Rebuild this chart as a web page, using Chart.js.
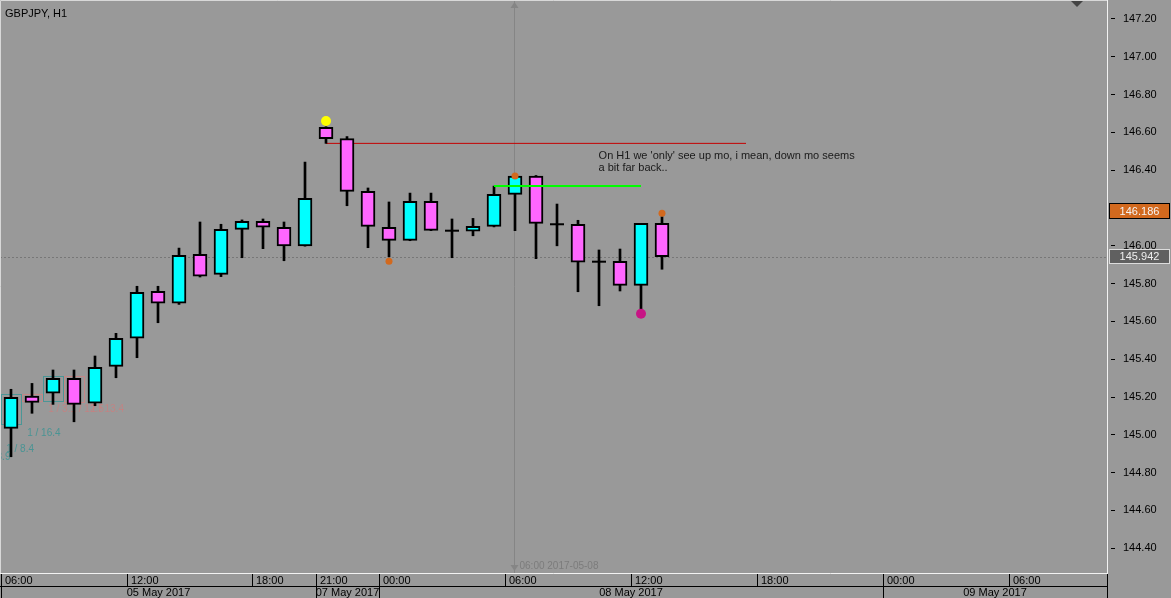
<!DOCTYPE html>
<html>
<head>
<meta charset="utf-8">
<title>GBPJPY, H1</title>
<script src="https://cdn.jsdelivr.net/npm/chart.js@4.4.1/dist/chart.umd.min.js"></script>
<style>
  html, body { margin: 0; padding: 0; background: #999999; overflow: hidden; }
  #wrap { width: 1171px; height: 598px; }
</style>
</head>
<body>
<div id="wrap"><canvas id="grafikHarga" width="1171" height="598"></canvas></div>
<script>
// --- Data: GBPJPY H1, 05 May 06:00 .. 08 May 13:00 (satu elemen = satu jam) ---
const opens  = [145.034, 145.205, 145.220, 145.299, 145.167, 145.362, 145.511, 145.759, 145.696, 145.955,
                145.849, 146.087, 146.130, 146.098, 146.000, 146.627, 146.567, 146.288, 146.098, 146.029,
                146.235, 146.080, 146.077, 146.103, 146.272, 146.369, 146.114, 146.114, 145.916, 145.918,
                145.791, 146.119];
const highs  = [145.241, 145.272, 145.343, 145.343, 145.417, 145.537, 145.786, 145.786, 145.988, 146.126,
                146.114, 146.137, 146.142, 146.126, 146.443, 146.630, 146.578, 146.306, 146.232, 146.279,
                146.279, 146.142, 146.145, 146.316, 146.372, 146.372, 146.221, 146.135, 145.978, 145.983,
                146.119, 146.154];
const lows   = [144.884, 145.114, 145.161, 145.069, 145.154, 145.302, 145.408, 145.593, 145.690, 145.835,
                145.837, 145.937, 145.985, 145.921, 145.998, 146.542, 146.212, 145.990, 145.942, 146.027,
                146.080, 145.937, 146.053, 146.100, 146.080, 145.932, 146.000, 145.757, 145.683, 145.761,
                145.660, 145.876];
const closes = [145.198, 145.172, 145.299, 145.161, 145.357, 145.511, 145.754, 145.696, 145.950, 145.839,
                146.087, 146.130, 146.098, 146.000, 146.251, 146.567, 146.288, 146.103, 146.029, 146.235,
                146.082, 146.080, 146.103, 146.272, 146.369, 146.119, 146.114, 145.913, 145.916, 145.791,
                146.119, 145.942];

// Label sumbu waktu (indeks bar) dan tanggal
const timeTickIdx    = [0, 6, 12, 15, 18, 24, 30, 36, 42, 48];
const timeTickLabels = ['06:00', '12:00', '18:00', '21:00', '00:00', '06:00', '12:00', '18:00', '00:00', '06:00'];
const dateStartIdx   = [0, 15, 18, 42];
const dateLabels     = ['05 May 2017', '07 May 2017', '08 May 2017', '09 May 2017'];

// Label harga di kanan
const priceTicks = [144.40, 144.60, 144.80, 145.00, 145.20, 145.40, 145.60, 145.80,
                    146.00, 146.20, 146.40, 146.60, 146.80, 147.00, 147.20];
const priceMin = 144.269;
const priceMax = 147.3005;

const bidPrice    = 145.942;
const markedPrice = 146.186;
const cursorIdx   = 24;
const cursorLabel = '06:00 2017-05-08';

// Objek gambar (garis & titik sinyal)
const redLineIdx   = [15, 35];
const redLinePrice = 146.542;
const greenLineIdx   = [23, 30];
const greenLinePrice = 146.316;
const yellowDots  = [{ x: 15, y: 146.660 }];
const orangeDots  = [{ x: 18, y: 145.918 }, { x: 24, y: 146.369 }, { x: 31, y: 146.172 }];
const magentaDots = [{ x: 30, y: 145.641 }];

// Catatan teks
const noteLines = ["On H1 we 'only' see up mo, i mean, down mo seems", 'a bit far back..'];
const noteIdx   = 27.98;
const notePrice = 146.475;

// Kotak & teks indikator samar di kiri bawah
const statBoxes = [
    { x0: -0.5, x1: 0.5, y0: 145.056, y1: 145.217, up: true },
    { x0: 0.5,  x1: 1.5, y0: 145.179, y1: 145.217, up: false },
    { x0: 1.5,  x1: 2.5, y0: 145.180, y1: 145.311, up: true },
    { x0: 2.5,  x1: 3.5, y0: 145.175, y1: 145.311, up: false }
];
const statTexts = [
    { x: 0.77,  y: 145.011, t: '1 / 16.4', up: true },
    { x: -0.23, y: 144.926, t: '1 / 8.4',  up: true },
    { x: -1.35, y: 144.884, t: '1 / 3.9',  up: true },
    { x: 1.77,  y: 145.137, t: '1 / 3.1',  up: false },
    { x: 2.83,  y: 145.137, t: '1 / 12.5', up: false },
    { x: 3.79,  y: 145.137, t: '1 / 13.4', up: false }
];

// --- Warna ---
const UP_COLOR = '#00ffff';
const DOWN_COLOR = '#ff66ff';
const FONT = "'Liberation Sans', Arial, sans-serif";

const BAR_PX = 21;        // lebar satu jam dalam piksel
const PLOT_RIGHT = 1107;  // batas kanan area plot
const xMin = -0.5 - 0.5 / BAR_PX;
const xMax = xMin + PLOT_RIGHT / BAR_PX;

const idx = opens.map((_, i) => i);
const bodyIdx = idx.filter(i => opens[i] !== closes[i]);
const dojiIdx = idx.filter(i => opens[i] === closes[i]);

const hargaPlugin = {
    id: 'hargaPlugin',
    beforeDraw(chart) {
        const { ctx, width, height } = chart;
        ctx.save();
        ctx.fillStyle = '#999999';
        ctx.fillRect(0, 0, width, height);
        ctx.restore();
    },
    beforeDatasetsDraw(chart) {
        const { ctx, chartArea: a, scales: { x, y } } = chart;
        ctx.save();

        // kotak indikator samar
        ctx.lineWidth = 1;
        statBoxes.forEach(b => {
            const l = Math.round(x.getPixelForValue(b.x0)) + 0.5;
            const r = Math.round(x.getPixelForValue(b.x1)) - 0.5;
            const t = Math.round(y.getPixelForValue(b.y1)) + 0.5;
            const btm = Math.round(y.getPixelForValue(b.y0)) + 0.5;
            ctx.strokeStyle = b.up ? '#4a9696' : '#c48686';
            ctx.strokeRect(l, t, r - l, btm - t);
        });
        ctx.font = '10px ' + FONT;
        ctx.textBaseline = 'middle';
        ctx.textAlign = 'left';
        statTexts.forEach(s => {
            ctx.fillStyle = s.up ? '#4a9494' : '#c08484';
            ctx.fillText(s.t, x.getPixelForValue(s.x), y.getPixelForValue(s.y));
        });

        // garis harga bid (putus-putus)
        const yb = Math.round(y.getPixelForValue(bidPrice)) + 0.5;
        ctx.strokeStyle = '#777777';
        ctx.setLineDash([2, 2]);
        ctx.beginPath();
        ctx.moveTo(a.left, yb);
        ctx.lineTo(a.right, yb);
        ctx.stroke();
        ctx.setLineDash([]);

        // garis kursor vertikal
        const xc = Math.round(x.getPixelForValue(cursorIdx)) - 0.5;
        ctx.strokeStyle = '#858585';
        ctx.beginPath();
        ctx.moveTo(xc, a.top);
        ctx.lineTo(xc, a.bottom);
        ctx.stroke();
        ctx.fillStyle = '#858585';
        ctx.beginPath();
        ctx.moveTo(xc - 4, a.top + 8);
        ctx.lineTo(xc + 4, a.top + 8);
        ctx.lineTo(xc, a.top + 2);
        ctx.fill();
        ctx.beginPath();
        ctx.moveTo(xc - 4, a.bottom - 8);
        ctx.lineTo(xc + 4, a.bottom - 8);
        ctx.lineTo(xc, a.bottom - 2);
        ctx.fill();
        ctx.fillStyle = '#7c7c7c';
        ctx.font = '10px ' + FONT;
        ctx.fillText(cursorLabel, xc + 5, a.bottom - 7);

        ctx.restore();
    },
    afterDraw(chart) {
        const { ctx, chartArea: a, scales: { x, y }, width, height } = chart;
        ctx.save();
        ctx.font = '11px ' + FONT;
        ctx.textBaseline = 'middle';

        // bingkai area plot
        ctx.lineWidth = 1;
        ctx.strokeStyle = '#d8d8d8';
        ctx.beginPath();
        ctx.moveTo(a.left + 0.5, a.bottom);
        ctx.lineTo(a.left + 0.5, a.top + 0.5);
        ctx.lineTo(a.right, a.top + 0.5);
        ctx.stroke();
        ctx.strokeStyle = '#f2f2f2';
        ctx.beginPath();
        ctx.moveTo(a.left, a.bottom + 0.5);
        ctx.lineTo(a.right + 0.5, a.bottom + 0.5);
        ctx.stroke();

        // sumbu waktu: baris jam
        const rowMid = a.bottom + 13.5;
        ctx.strokeStyle = '#000000';
        ctx.fillStyle = '#000000';
        ctx.textAlign = 'left';
        timeTickIdx.forEach((i, k) => {
            const px = Math.round(x.getPixelForValue(i - 0.5));
            if (px > a.left) {
                ctx.beginPath();
                ctx.moveTo(px + 0.5, a.bottom + 1);
                ctx.lineTo(px + 0.5, rowMid);
                ctx.stroke();
            }
            ctx.fillText(timeTickLabels[k], px + 4, a.bottom + 8);
        });
        ctx.beginPath();
        ctx.moveTo(a.left, rowMid);
        ctx.lineTo(a.right + 1, rowMid);
        ctx.stroke();
        ctx.beginPath();
        ctx.moveTo(a.right + 0.5, a.bottom + 1);
        ctx.lineTo(a.right + 0.5, height);
        ctx.stroke();

        // sumbu waktu: baris tanggal
        ctx.textAlign = 'center';
        dateStartIdx.forEach((i, k) => {
            const l = Math.round(x.getPixelForValue(i - 0.5));
            const r = k + 1 < dateStartIdx.length
                ? Math.round(x.getPixelForValue(dateStartIdx[k + 1] - 0.5))
                : a.right;
            if (l > a.left) {
                ctx.beginPath();
                ctx.moveTo(l + 0.5, rowMid);
                ctx.lineTo(l + 0.5, height);
                ctx.stroke();
            }
            ctx.fillText(dateLabels[k], (l + r) / 2, a.bottom + 19.5);
        });

        // label harga di sumbu kanan
        const boxL = a.right + 2;
        const boxW = width - boxL - 1;
        const yo = Math.round(y.getPixelForValue(markedPrice));
        ctx.fillStyle = '#d2691e';
        ctx.fillRect(boxL, yo - 8, boxW, 16);
        ctx.strokeStyle = '#000000';
        ctx.strokeRect(boxL + 0.5, yo - 7.5, boxW - 1, 15);
        ctx.fillStyle = '#f4f4f4';
        ctx.fillText(markedPrice.toFixed(3), boxL + boxW / 2, yo + 0.5);

        const yg = Math.round(y.getPixelForValue(bidPrice));
        ctx.fillStyle = '#606060';
        ctx.fillRect(boxL, yg - 8, boxW, 15);
        ctx.strokeStyle = '#dcdcdc';
        ctx.strokeRect(boxL + 0.5, yg - 7.5, boxW - 1, 14);
        ctx.fillStyle = '#eeeeee';
        ctx.fillText(bidPrice.toFixed(3), boxL + boxW / 2, yg);

        // judul & segitiga kanan atas
        ctx.textAlign = 'left';
        ctx.fillStyle = '#000000';
        ctx.fillText('GBPJPY, H1', a.left + 5, a.top + 14);
        ctx.fillStyle = '#444444';
        ctx.beginPath();
        ctx.moveTo(a.right - 36, a.top + 1);
        ctx.lineTo(a.right - 24, a.top + 1);
        ctx.lineTo(a.right - 30, a.top + 7);
        ctx.fill();

        // catatan
        ctx.fillStyle = '#1a1a1a';
        const nx = x.getPixelForValue(noteIdx);
        const ny = y.getPixelForValue(notePrice);
        noteLines.forEach((line, k) => ctx.fillText(line, nx, ny + k * 12));

        ctx.restore();
    }
};

new Chart(document.getElementById('grafikHarga'), {
    type: 'bar',
    data: {
        datasets: [
            {
                type: 'line',
                label: 'Resistance',
                data: redLineIdx.map(i => ({ x: i, y: redLinePrice })),
                borderColor: '#c40000',
                borderWidth: 1,
                pointRadius: 0,
                order: 3
            },
            {
                type: 'bar',
                label: 'Wick',
                data: idx.map(i => ({ x: i, y: [lows[i], highs[i]] })),
                backgroundColor: '#000000',
                borderWidth: 0,
                barThickness: 2,
                grouped: false,
                order: 2
            },
            {
                type: 'bar',
                label: 'Body',
                data: bodyIdx.map(i => ({ x: i, y: [opens[i], closes[i]] })),
                backgroundColor: bodyIdx.map(i => closes[i] > opens[i] ? UP_COLOR : DOWN_COLOR),
                borderColor: '#000000',
                borderWidth: 2,
                borderSkipped: false,
                barThickness: 14,
                grouped: false,
                order: 1
            },
            {
                type: 'line',
                label: 'Doji',
                data: dojiIdx.map(i => ({ x: i, y: opens[i] })),
                showLine: false,
                pointStyle: 'line',
                pointRadius: 7,
                pointBorderColor: '#000000',
                pointBorderWidth: 2,
                order: 0
            },
            {
                type: 'line',
                label: 'Level',
                data: greenLineIdx.map(i => ({ x: i, y: greenLinePrice })),
                borderColor: '#00ff00',
                borderWidth: 2,
                pointRadius: 0,
                order: 0
            },
            {
                type: 'line',
                label: 'Yellow',
                data: yellowDots,
                showLine: false,
                pointRadius: 5,
                pointBackgroundColor: '#ffff00',
                pointBorderWidth: 0,
                order: 0
            },
            {
                type: 'line',
                label: 'Orange',
                data: orangeDots,
                showLine: false,
                pointRadius: 3.5,
                pointBackgroundColor: '#d2691e',
                pointBorderWidth: 0,
                order: 0
            },
            {
                type: 'line',
                label: 'Magenta',
                data: magentaDots,
                showLine: false,
                pointRadius: 5,
                pointBackgroundColor: '#c71585',
                pointBorderWidth: 0,
                order: 0
            }
        ]
    },
    options: {
        responsive: false,
        devicePixelRatio: 1,
        animation: false,
        layout: { autoPadding: false, padding: { left: 0, top: 0, right: 0, bottom: 25 } },
        plugins: {
            legend: { display: false },
            tooltip: { enabled: false }
        },
        scales: {
            x: {
                type: 'linear',
                display: false,
                offset: false,
                min: xMin,
                max: xMax,
                grid: { offset: false }
            },
            y: {
                type: 'linear',
                position: 'right',
                min: priceMin,
                max: priceMax,
                afterBuildTicks: (scale) => {
                    scale.ticks = priceTicks.map(v => ({ value: v }));
                },
                afterFit: (scale) => {
                    scale.width = 1171 - PLOT_RIGHT;
                    scale.paddingTop = 0;
                    scale.paddingBottom = 0;
                },
                border: { display: true, color: '#f2f2f2', width: 1 },
                grid: {
                    drawOnChartArea: false,
                    drawTicks: true,
                    tickLength: 8,
                    tickColor: '#000000',
                    tickWidth: 1,
                    tickBorderDash: [0, 3, 5, 20]
                },
                ticks: {
                    color: '#000000',
                    padding: 8,
                    font: { family: FONT, size: 11 },
                    callback: (v) => Number(v).toFixed(2)
                }
            }
        }
    },
    plugins: [hargaPlugin]
});
</script>
</body>
</html>
